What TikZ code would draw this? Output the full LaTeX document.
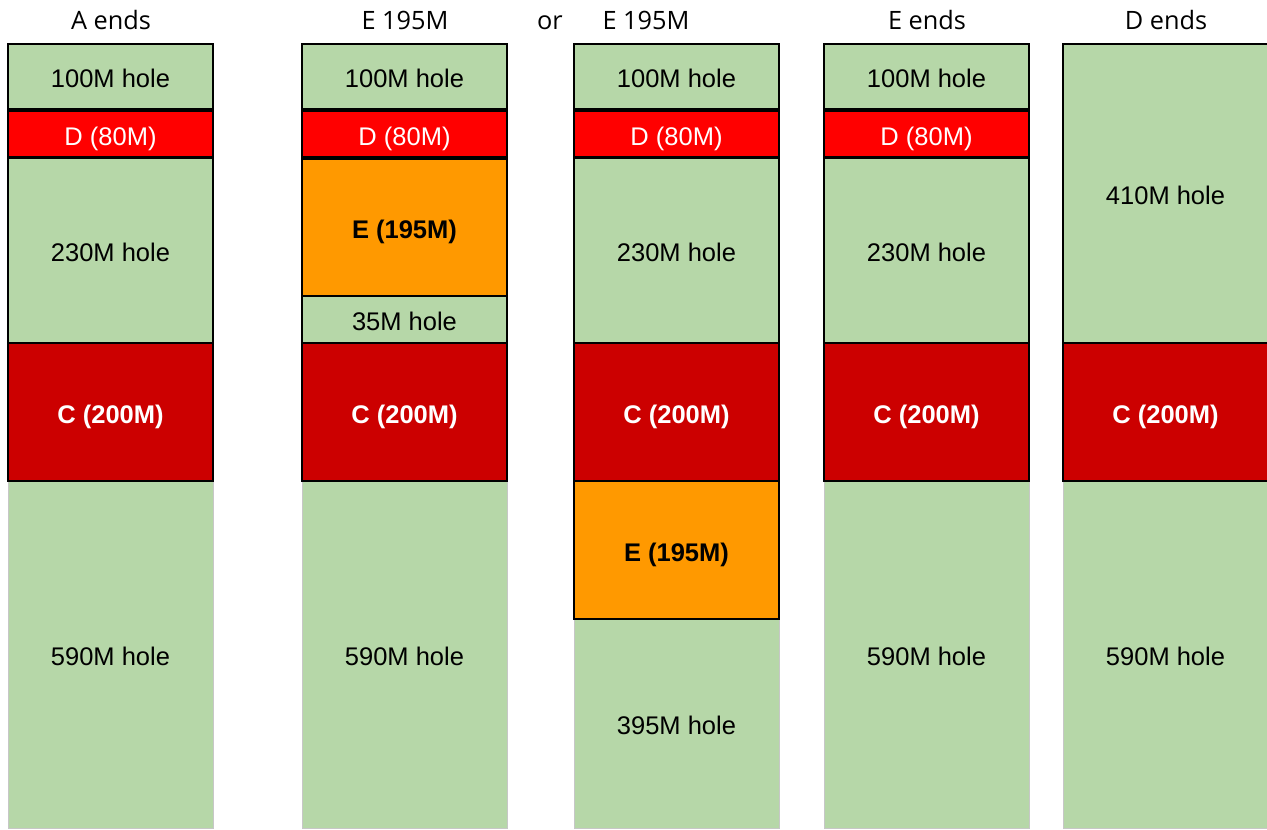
\documentclass[tikz,border=0pt]{standalone}
\usepackage{fontspec}
\setmainfont{Liberation Sans}
\newfontfamily\headfont{Open Sans}
\definecolor{holeg}{HTML}{B6D7A8}
\definecolor{dred}{HTML}{FF0000}
\definecolor{cred}{HTML}{CC0000}
\definecolor{eorange}{HTML}{FF9900}
\begin{document}
\begin{tikzpicture}[x=1pt,y=-1pt,
  blk/.style={draw=black, line width=2pt, minimum width=205pt, inner sep=0pt, text height=22pt, text depth=0pt, font=\fontsize{25.5}{30}\selectfont},
  hole/.style={blk, fill=holeg, text=black},
  lasthole/.style={hole, draw=black!22, line width=1pt},
  dblk/.style={blk, fill=dred, text=white},
  cblk/.style={blk, fill=cred, text=white, font=\fontsize{25.5}{30}\selectfont\bfseries},
  eblk/.style={blk, fill=eorange, text=black, font=\fontsize{25.5}{30}\selectfont\bfseries},
  head/.style={font=\headfont\fontsize{25.3}{30}\selectfont, inner sep=0pt, text height=18pt, text depth=0pt}]
\useasboundingbox (0,0) rectangle (1267,830);
\clip (0,0) rectangle (1267,830);
% headers
\node[head] (h1) at (111,20.5) {A ends};
\node[head] (h2) at (405,20.5) {E 195M};
\node[head] (hor) at (550,20.5) {or};
\node[head] (h3) at (646,20.5) {E 195M};
\node[head] (h4) at (927,20.5) {E ends};
\node[head] (h5) at (1166,20.5) {D ends};
% column 1
\node[lasthole, minimum height=347pt] (a5) at (110.5,654.5) {590M hole};
\node[hole, minimum height=65pt] (a1) at (110.5,76.5) {100M hole};
\node[dblk, minimum height=46pt] (a2) at (110.5,134) {D (80M)};
\node[hole, minimum height=185pt] (a3) at (110.5,250.5) {230M hole};
\node[cblk, minimum height=138pt] (a4) at (110.5,412) {C (200M)};
% column 2
\node[lasthole, minimum height=347pt] (b6) at (404.5,654.5) {590M hole};
\node[hole, minimum height=65pt] (b1) at (404.5,76.5) {100M hole};
\node[dblk, minimum height=46pt] (b2) at (404.5,134) {D (80M)};
\node[eblk, minimum height=138pt] (b3) at (404.5,227.5) {E (195M)};
\node[hole, minimum height=47pt] (b4) at (404.5,319.5) {35M hole};
\node[cblk, minimum height=138pt] (b5) at (404.5,412) {C (200M)};
% column 3
\node[lasthole, minimum height=209pt] (c6) at (676.5,723.5) {395M hole};
\node[hole, minimum height=65pt] (c1) at (676.5,76.5) {100M hole};
\node[dblk, minimum height=46pt] (c2) at (676.5,134) {D (80M)};
\node[hole, minimum height=185pt] (c3) at (676.5,250.5) {230M hole};
\node[cblk, minimum height=138pt] (c4) at (676.5,412) {C (200M)};
\node[eblk, minimum height=138pt] (c5) at (676.5,550) {E (195M)};
% column 4
\node[lasthole, minimum height=347pt] (d5) at (926.5,654.5) {590M hole};
\node[hole, minimum height=65pt] (d1) at (926.5,76.5) {100M hole};
\node[dblk, minimum height=46pt] (d2) at (926.5,134) {D (80M)};
\node[hole, minimum height=185pt] (d3) at (926.5,250.5) {230M hole};
\node[cblk, minimum height=138pt] (d4) at (926.5,412) {C (200M)};
% column 5
\node[lasthole, minimum height=347pt] (e3) at (1165.5,654.5) {590M hole};
\node[hole, minimum height=299pt] (e1) at (1165.5,193.5) {410M hole};
\node[cblk, minimum height=138pt] (e2) at (1165.5,412) {C (200M)};
\end{tikzpicture}
\end{document}
